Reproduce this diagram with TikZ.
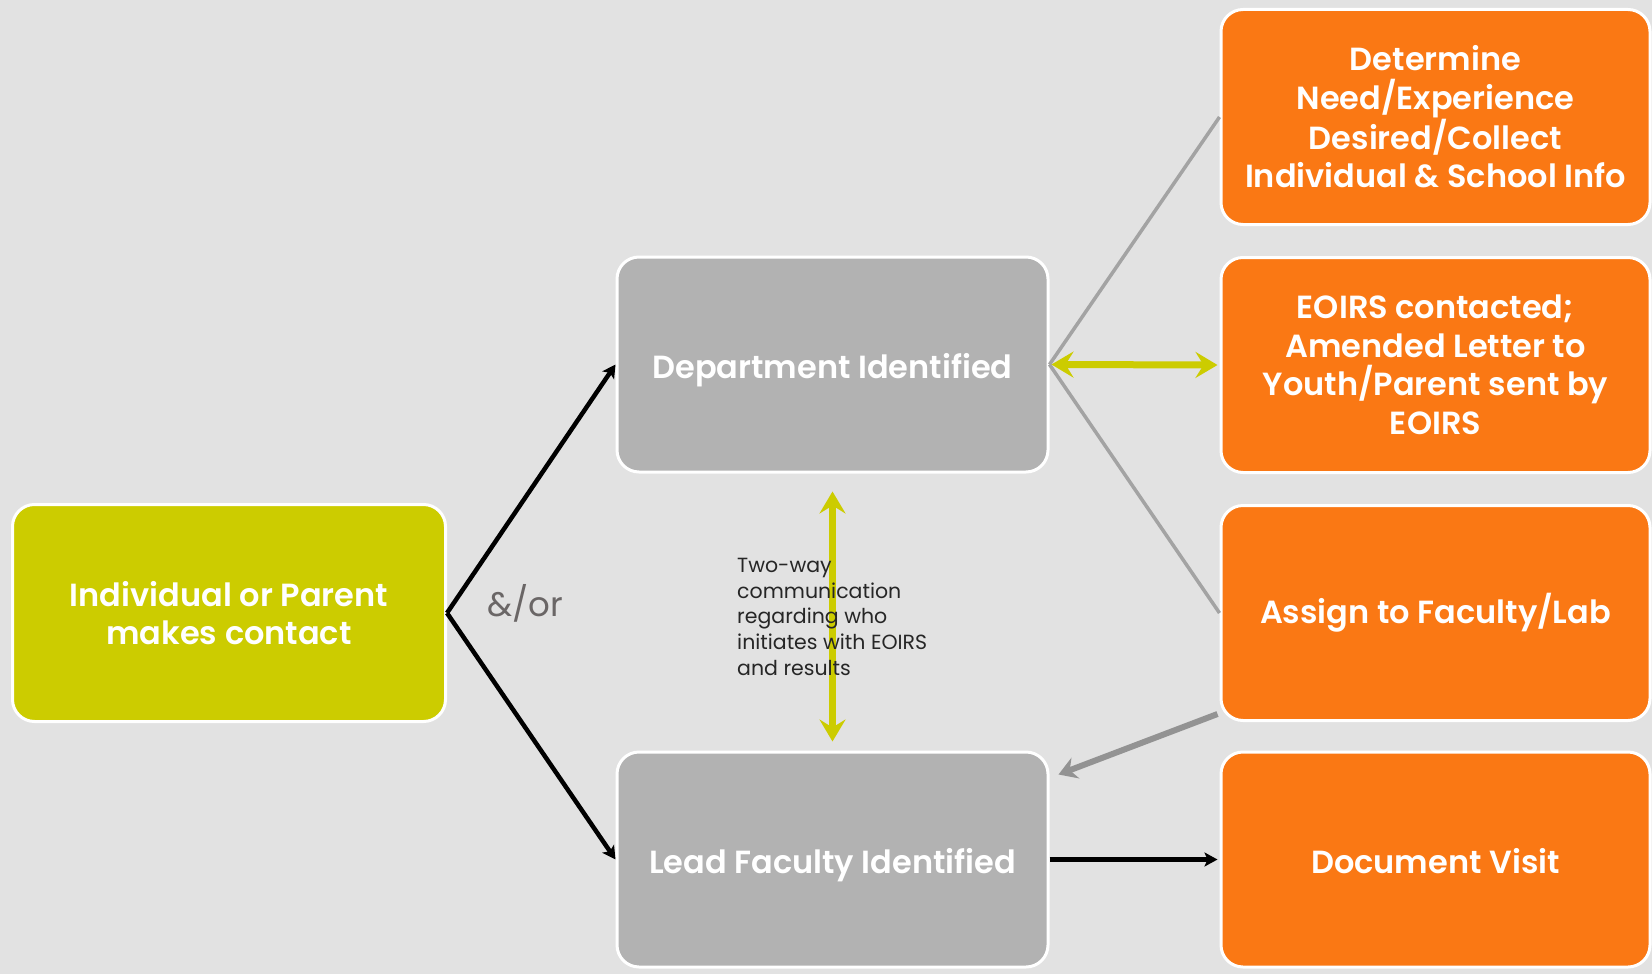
\documentclass[tikz,border=0pt]{standalone}
\usepackage{fontspec}
\setmainfont{Poppins}[BoldFont={Poppins SemiBold}]
\usetikzlibrary{arrows.meta,calc}
\definecolor{bg}{HTML}{E2E2E2}
\definecolor{lime}{HTML}{CCCC00}
\definecolor{boxgray}{HTML}{B2B2B2}
\definecolor{orng}{HTML}{FA7814}
\definecolor{linegray}{HTML}{A3A3A3}
\definecolor{andor}{HTML}{6A6666}
\tikzset{
  box/.style={draw=white, line width=3pt, rounded corners=22pt, text=white,
    align=center, inner sep=0pt, font=\fontsize{32}{38.5}\selectfont\bfseries},
  oneline/.style={text height=30pt, text depth=2pt},
  limebox/.style={box, fill=lime, minimum width=433pt, minimum height=217pt},
  graybox/.style={box, fill=boxgray, minimum width=431pt, minimum height=215pt},
  orangebox/.style={box, fill=orng, minimum width=429pt, minimum height=215pt},
  blackarrow/.style={line width=4.5pt, -{Stealth[length=13pt,width=14pt,inset=3pt]}},
  grayline/.style={draw=linegray, line width=3.5pt},
  grayarrow/.style={draw=linegray!90!black, line width=6pt, -{Stealth[length=18pt,width=22pt,inset=6pt]}},
  limearrow/.style={draw=lime, line width=7pt, {Stealth[length=22pt,width=26pt,inset=8pt]}-{Stealth[length=22pt,width=26pt,inset=8pt]}},
}
\begin{document}
\begin{tikzpicture}[x=1pt,y=-1pt]
\fill[bg] (0,0) rectangle (1652,974);
\useasboundingbox (0,0) rectangle (1652,974);

\node[limebox] (src) at (229,613) {Individual or Parent\\makes contact};
\node[graybox, oneline] (dept) at (832.5,364.5) {Department Identified};
\node[graybox, oneline] (lead) at (832.5,859.5) {Lead Faculty Identified};
\node[orangebox] (o1) at (1435.5,117) {Determine\\Need/Experience\\Desired/Collect\\Individual \& School Info};
\node[orangebox] (o2) at (1435.5,365) {EOIRS contacted;\\Amended Letter to\\Youth/Parent sent by\\EOIRS};
\node[orangebox] (o3) at (1435.5,613) {Assign to Faculty/Lab};
\node[orangebox, oneline] (o4) at (1435.5,859.5) {Document Visit};

\node[text=andor, font=\fontsize{34}{40}\selectfont, anchor=center] (andor) at (525,603) {\&/or};

\draw[blackarrow] (src.east) -- (dept.west);
\draw[blackarrow] (src.east) -- (lead.west);
\draw[grayline] (dept.east) -- (o1.west);
\draw[grayline] (dept.east) -- (o3.west);
\draw[limearrow] ([xshift=2pt]dept.east) -- ([xshift=-2pt]o2.west);
\draw[blackarrow] (lead.east) -- ([xshift=-2pt]o4.west);

\coordinate (gs) at ($(o3.south west)+(-2,-8)$);
\coordinate (ge) at ($(lead.north east)+(9,24)$);
\draw[grayarrow] (gs) -- (ge);

\coordinate (vs) at ($(dept.south)+(0,18)$);
\coordinate (ve) at ($(lead.north)+(0,-9)$);
\draw[limearrow] (vs) -- (ve);

\node[anchor=north west, align=left, text=black!85, inner sep=0pt,
  font=\fontsize{20.5}{25.7}\selectfont] (note) at (737,558)
  {Two-way\\communication\\regarding who\\initiates with EOIRS\\and results};
\end{tikzpicture}
\end{document}
